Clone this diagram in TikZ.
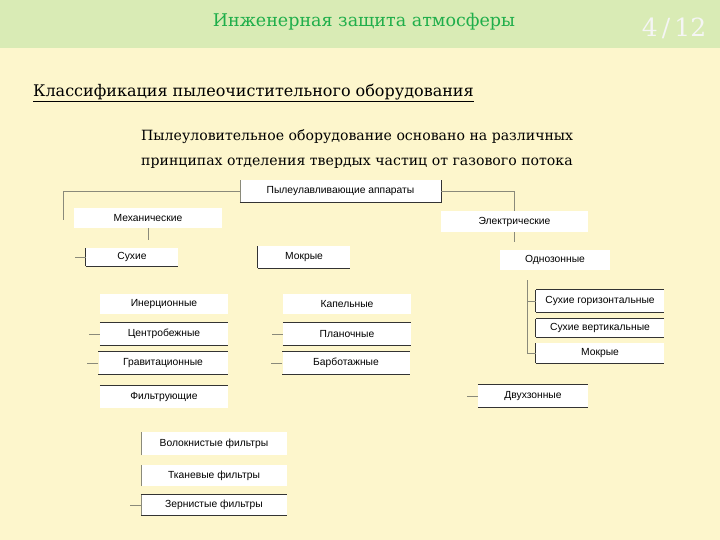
\documentclass[tikz,border=0pt]{standalone}
\usepackage{fontspec}
\setmainfont{DejaVu Serif}
\newfontfamily\boxfont{Liberation Sans}
\definecolor{band}{HTML}{D9EBB5}
\definecolor{bodybg}{HTML}{FDF6CC}
\definecolor{titlegreen}{HTML}{1FAE4A}
\definecolor{linegray}{HTML}{8A8A7A}
\begin{document}
\begin{tikzpicture}[x=1pt,y=-1pt,
  bx/.style={fill=white,inner sep=0pt,font=\boxfont\fontsize{10.3}{11}\selectfont},
  edge/.style={draw=black!80,line width=0.9pt},
  con/.style={draw=linegray,line width=0.6pt}]
\fill[bodybg] (0,0) rectangle (720,540);
\fill[band] (0,0) rectangle (720,48);
\useasboundingbox (0,0) rectangle (720,540);
\node[titlegreen,font=\fontsize{17.5}{20}\selectfont] (title) at (364,22) {Инженерная защита атмосферы};
\node[white!92!gray,font=\fontsize{25}{26}\selectfont] (pg) at (674,28) {4\,/\,12};
\node[anchor=west,font=\fontsize{16}{18}\selectfont,inner sep=0pt] (h) at (33,93) {\underline{Классификация пылеочистительного оборудования}};
\node[anchor=north west,align=left,font=\fontsize{14.1}{25}\selectfont,inner sep=0pt] (p) at (141,129)
 {Пылеуловительное оборудование основано на различных\\принципах отделения твердых частиц от газового потока};
\newcommand{\bxx}[6]{\node[bx,minimum width=#4,minimum height=#5] (#1) at (#2,#3) {#6};}
\bxx{top}{340.5}{191}{201}{22}{Пылеулавливающие аппараты}
\bxx{mech}{148}{218}{148}{20}{Механические}
\bxx{el}{514.5}{221.5}{147}{21}{Электрические}
\bxx{dry}{132}{257}{92}{18}{Сухие}
\bxx{wet}{304}{257}{92}{22}{Мокрые}
\bxx{one}{555}{260}{110}{20}{Однозонные}
\bxx{sh}{600}{301}{128}{22}{Сухие горизонтальные}
\bxx{sv}{600}{328}{128}{18}{Сухие вертикальные}
\bxx{mw}{600}{353}{128}{20}{Мокрые}
\bxx{two}{533}{396}{110}{22}{Двухзонные}
\bxx{in}{164}{304}{128}{20}{Инерционные}
\bxx{cb}{164}{334}{128}{22}{Центробежные}
\bxx{gr}{163}{363}{129}{22}{Гравитационные}
\bxx{fi}{164}{397}{128}{22}{Фильтрующие}
\bxx{ka}{347}{304}{128}{20}{Капельные}
\bxx{pl}{347}{334}{128}{22}{Планочные}
\bxx{ba}{346}{363}{127}{22}{Барботажные}
\bxx{vo}{214}{443.5}{146}{23}{Волокнистые фильтры}
\bxx{tk}{214}{475.5}{146}{21}{Тканевые фильтры}
\bxx{ze}{214}{505}{146}{20}{Зернистые фильтры}
\draw[edge] (top.south west) -- (top.south east) -- (top.north east);
\draw[con] (top.south west) -- (top.north west);
\foreach \n in {dry,wet,sh,sv,mw,two,cb,gr,ba,pl,ze}{\draw[edge] (\n.south west) -- (\n.south east);}
\foreach \n in {dry,wet,sh,sv,mw}{\draw[edge] (\n.south west) -- (\n.north west);}
\foreach \n in {sh,sv,two,cb,gr,ba,pl,fi,ze}{\draw[edge] (\n.north west) -- (\n.north east);}
\foreach \n in {vo,tk,ze}{\draw[con] (\n.south west) -- (\n.north west);}
\coordinate (l1) at (63,220);
\draw[con] (top.west) -| (l1);
\draw[con] (top.east) -| (el.north);
\draw[con] (mech.south) -- ++(0,12);
\draw[con] (el.south) -- ++(0,10);
\coordinate (v1) at (527,280);
\coordinate (v2) at (527,353);
\draw[con] (v1) -- (v2) -- (mw.west);
\draw[con] (sh.west) -- ++(-9,0);
\foreach \n in {dry,cb,gr,pl,ba,two,ze}{\draw[con] (\n.west) -- ++(-11,0);}
\end{tikzpicture}
\end{document}
